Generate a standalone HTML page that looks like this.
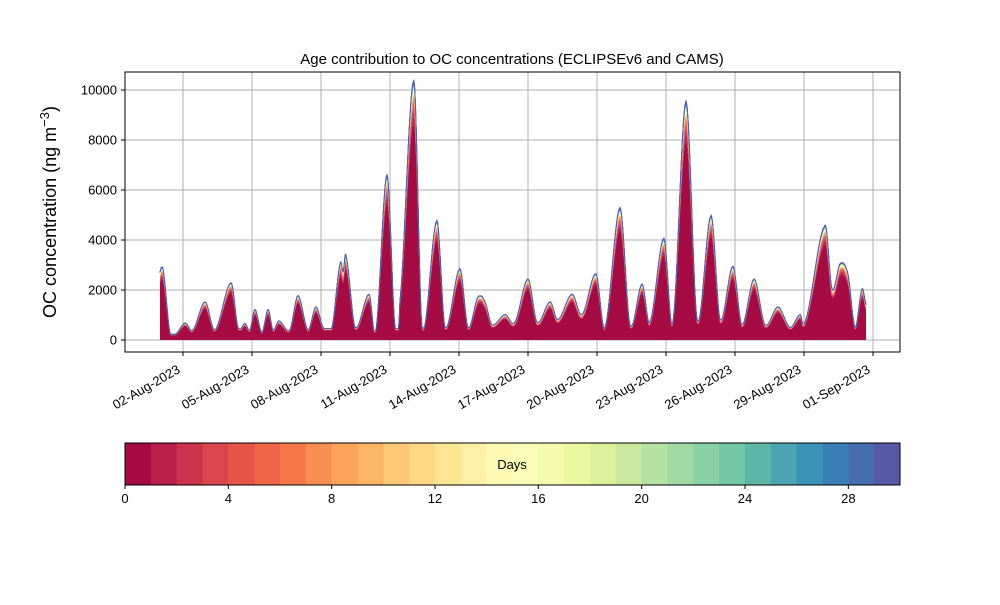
<!DOCTYPE html>
<html><head><meta charset="utf-8"><style>
body{margin:0;background:#fff;}
svg text{font-family:"Liberation Sans",sans-serif;fill:#000;}
</style></head><body>
<svg id="c" width="1000" height="600" xmlns="http://www.w3.org/2000/svg"></svg>
<script>
// data: time in days since 01-Aug-2023 00:00, total concentration
const times=[0,0.13,0.43,0.7,1.0,1.13,1.43,1.96,2.39,3.09,3.39,3.7,3.91,4.13,4.43,4.7,4.91,5.17,5.65,6.0,6.43,6.78,7.09,7.48,7.83,7.96,8.09,8.48,9.09,9.39,9.87,10.22,10.43,11.04,11.39,12.04,12.39,13.04,13.39,13.83,14.13,14.43,15.0,15.43,16.0,16.39,16.96,17.3,17.91,18.35,18.96,19.35,20.0,20.43,20.96,21.3,21.91,22.3,22.87,23.35,23.96,24.35,24.91,25.3,25.83,26.3,26.87,27.39,27.83,28.04,28.91,29.22,29.57,29.91,30.22,30.52,30.7];
const totals=[2700,2800,300,250,600,650,400,1500,400,2250,500,650,400,1200,300,1200,400,750,400,1750,400,1300,500,500,3000,2700,3300,500,1800,400,6500,500,1500,10200,500,4700,500,2800,500,1700,1500,600,1000,700,2400,700,1500,800,1800,1000,2600,500,5200,600,2200,700,4000,700,9400,800,4900,800,2900,600,2400,600,1300,500,1000,700,4500,2000,3000,2600,500,2000,1400];
const layerFractions=[0.85,0.03,0.02,0.015,0.012,0.01,0.008,0.006,0.005,0.004,0.004,0.003,0.003,0.003,0.003,0.003,0.003,0.003,0.003,0.003,0.003,0.003,0.003,0.003,0.003,0.003,0.003,0.003,0.003,0.003];
const yTicks=[0,2000,4000,6000,8000,10000];
const xTickLabels=["02-Aug-2023","05-Aug-2023","08-Aug-2023","11-Aug-2023","14-Aug-2023","17-Aug-2023","20-Aug-2023","23-Aug-2023","26-Aug-2023","29-Aug-2023","01-Sep-2023"];
const xTickDays=[1,4,7,10,13,16,19,22,25,28,31];
const cbTicks=[0,4,8,12,16,20,24,28];

const NS="http://www.w3.org/2000/svg";
const svg=document.getElementById('c');
const L=125,R=900,T=72,B=352;
const X=d=>160+23*d;
const Y=v=>340-v*0.025;
function el(tag,attrs,parent){const e=document.createElementNS(NS,tag);for(const k in attrs)e.setAttribute(k,attrs[k]);(parent||svg).appendChild(e);return e;}
const spec=["#9e0142","#d53e4f","#f46d43","#fdae61","#fee08b","#ffffbf","#e6f598","#abdda4","#66c2a5","#3288bd","#5e4fa2"];
function hx(h){return [1,3,5].map(i=>parseInt(h.substr(i,2),16));}
function cmap(t){const p=t*10,i=Math.min(9,Math.floor(p)),f=p-i;const a=hx(spec[i]),b=hx(spec[i+1]);return `rgb(${a.map((v,k)=>Math.round(v+(b[k]-v)*f)).join(',')})`;}

// grid
for(const d of xTickDays){const g=el('line',{x1:X(d),x2:X(d),y1:T,y2:B,stroke:'#b0b0b0','stroke-width':1});}
for(const v of yTicks){const g=el('line',{x1:L,x2:R,y1:Y(v),y2:Y(v),stroke:'#b0b0b0','stroke-width':1});}

// interpolate
const samples=[];
for(let i=0;i<times.length-1;i++){
  const p0=totals[Math.max(0,i-1)],p1=totals[i],p2=totals[i+1],p3=totals[Math.min(totals.length-1,i+2)];
  const n=10;
  for(let k=0;k<n;k++){const t=k/n;
    let v=0.5*((2*p1)+(-p0+p2)*t+(2*p0-5*p1+4*p2-p3)*t*t+(-p0+3*p1-3*p2+p3)*t*t*t);
    const lo=Math.min(p1,p2),hi=Math.max(p1,p2);v=Math.max(lo*0.9,Math.min(hi*1.02,v));
    samples.push([times[i]+(times[i+1]-times[i])*t,v]);}
}
samples.push([times[times.length-1],totals[totals.length-1]]);
const layers=el('g',{});
let cum=0;
layerFractions.forEach((f,li)=>{
  const lo=cum,hi=cum+f;cum=hi;
  let d='M'+samples.map(s=>X(s[0]).toFixed(2)+','+Y(s[1]*hi).toFixed(2)).join('L');
  for(let j=samples.length-1;j>=0;j--)d+='L'+X(samples[j][0]).toFixed(2)+','+Y(samples[j][1]*lo).toFixed(2);
  const p=el('path',{d:d+'Z',fill:cmap((li+0.5)/30),stroke:li>=25?cmap((li+0.5)/30):'none','stroke-width':li>=25?0.8:0},layers);
  
});

// axes frame
const fr=el('rect',{x:L,y:T,width:R-L,height:B-T,fill:'none',stroke:'#000','stroke-width':1});

yTicks.forEach(v=>{el('line',{x1:L-4,x2:L,y1:Y(v),y2:Y(v),stroke:'#000'});
  const t=el('text',{x:L-8,y:Y(v)+4.5,'text-anchor':'end','font-size':13});t.textContent=v;
  });
xTickDays.forEach((d,i)=>{el('line',{x1:X(d),x2:X(d),y1:B,y2:B+4,stroke:'#000'});
  const tx=X(d)-2,ty=B+20;
  const t=el('text',{x:tx,y:ty,'text-anchor':'end','font-size':13,transform:`rotate(-30 ${tx} ${ty})`});t.textContent=xTickLabels[i];
  });
const ti=el('text',{x:512,y:64,'text-anchor':'middle','font-size':15});ti.textContent='Age contribution to OC concentrations (ECLIPSEv6 and CAMS)';

const yl=el('text',{x:56,y:212,'text-anchor':'middle','font-size':18,transform:'rotate(-90 56 212)'});
yl.innerHTML='OC concentration (ng m<tspan dy="-7" font-size="13">−3</tspan><tspan dy="7">)</tspan>';


// colorbar
const cb=el('g',{});
const cbL=125,cbR=900,cbT=443,cbB=485,w=(cbR-cbL)/30;
for(let i=0;i<30;i++){const r=el('rect',{x:cbL+i*w,y:cbT,width:w+0.5,height:cbB-cbT,fill:cmap((i+0.5)/30)},cb);
  }
el('rect',{x:cbL,y:cbT,width:cbR-cbL,height:cbB-cbT,fill:'none',stroke:'#000'},cb);
cbTicks.forEach(v=>{const x=cbL+v*w;el('line',{x1:x,x2:x,y1:cbB,y2:cbB+4,stroke:'#000'},cb);
  const t=el('text',{x:x,y:cbB+18,'text-anchor':'middle','font-size':13},cb);t.textContent=v;
  });
const dl=el('text',{x:512,y:469,'text-anchor':'middle','font-size':13},cb);dl.textContent='Days';

</script>
</body></html>
